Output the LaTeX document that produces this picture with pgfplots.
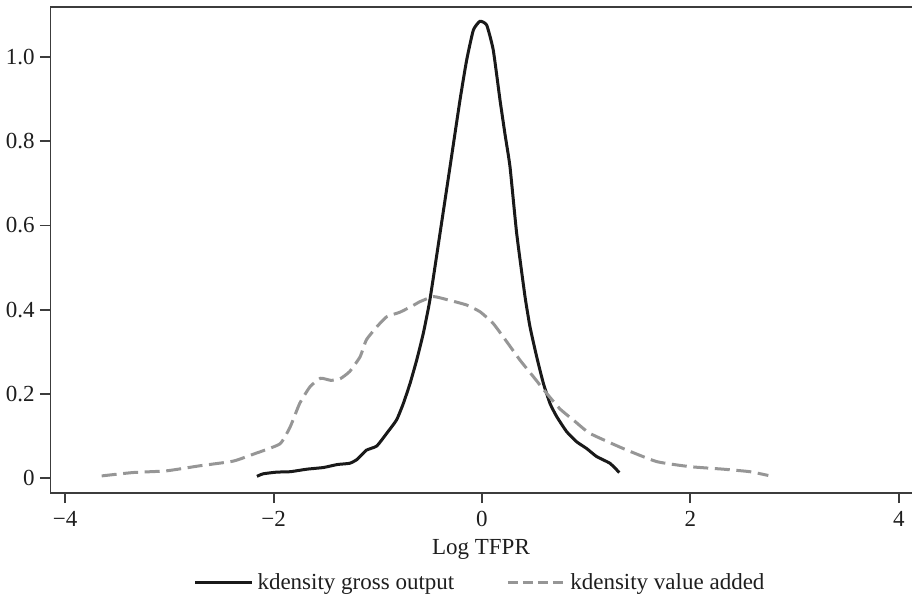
\documentclass[border=0pt]{standalone}
\usepackage{fontspec}
\setmainfont{Liberation Serif}
\usepackage{pgfplots}
\pgfplotsset{compat=1.18}
\definecolor{axisgray}{RGB}{60,60,60}
\definecolor{vagray}{RGB}{150,150,150}
\definecolor{txt}{RGB}{30,30,30}

\begin{document}
\fontsize{11.5bp}{13.5bp}\selectfont
\begin{tikzpicture}
\useasboundingbox (-25bp,-54.5bp) rectangle (431bp,246.5bp);
\begin{axis}[
  at={(0,0)}, anchor=south west,
  scale only axis, width=431bp, height=243bp,
  xmin=-4.146, xmax=4.127, ymin=-0.0356, ymax=1.119,
  axis line style={draw=none},
  xtick={-4,-2,0,2,4}, xticklabels={−4,−2,0,2,4},
  ytick={0,0.2,0.4,0.6,0.8,1.0}, yticklabels={0,0.2,0.4,0.6,0.8,1.0},
  xtick pos=left, ytick pos=left, tick align=outside,
  major tick length=5bp,
  tick style={axisgray, line width=0.9bp},
  ticklabel style={font=\fontsize{11.5bp}{13.5bp}\selectfont, text=txt},
  yticklabel style={inner sep=2.5bp},
  xlabel={Log TFPR},
  xlabel style={at={(axis description cs:0.5,-0.1152)}, anchor=center,
    font=\fontsize{11.5bp}{13.5bp}\selectfont, text=txt},
  legend columns=2,
  legend style={draw=none, fill=none, at={(0.5,-0.185)}, anchor=center,
    font=\fontsize{11.5bp}{13.5bp}\selectfont, text=txt,
    /tikz/every even column/.append style={column sep=24bp}},
  legend image code/.code={\draw[#1] (0bp,0bp) -- (28.5bp,0bp);},
]

% spines: left, top, bottom
\draw[axisgray, line width=1bp, line cap=rect]
  (rel axis cs:0,0) -- (rel axis cs:0,1) -- (rel axis cs:1,1);
\draw[axisgray, line width=1bp, line cap=rect]
  (rel axis cs:0,0) -- (rel axis cs:1,0);

% kdensity gross output
\addplot[black!90, line width=1.5bp, smooth, tension=0.3, forget plot] coordinates {
  (-2.16,0.004) (-2.10,0.010) (-1.97,0.014) (-1.84,0.015) (-1.68,0.021)
  (-1.52,0.025) (-1.39,0.032) (-1.27,0.035) (-1.20,0.044) (-1.11,0.066)
  (-1.01,0.076) (-0.915,0.106) (-0.82,0.138) (-0.755,0.177) (-0.69,0.225)
  (-0.627,0.280) (-0.563,0.344) (-0.50,0.423) (-0.403,0.581) (-0.307,0.739)
  (-0.211,0.898) (-0.147,0.993) (-0.083,1.064) (-0.02,1.085) (0.045,1.076)
  (0.108,1.017) (0.173,0.898) (0.222,0.815) (0.269,0.739) (0.333,0.581)
  (0.413,0.431) (0.461,0.359) (0.525,0.288) (0.589,0.225) (0.653,0.177)
  (0.717,0.146) (0.813,0.110) (0.909,0.086) (1.005,0.070) (1.10,0.051)
  (1.228,0.035) (1.318,0.013)
};

% kdensity value added
\addplot[vagray, line width=1.5bp, dash pattern=on 7.5bp off 3.3bp,
  smooth, tension=0.3, forget plot] coordinates {
  (-3.65,0.005) (-3.35,0.013) (-3.03,0.017) (-2.71,0.029) (-2.39,0.040)
  (-2.19,0.057) (-1.94,0.081) (-1.84,0.122) (-1.75,0.177) (-1.65,0.217)
  (-1.55,0.237) (-1.45,0.232) (-1.36,0.236) (-1.27,0.253) (-1.17,0.288)
  (-1.11,0.328) (-1.01,0.359) (-0.915,0.383) (-0.787,0.394) (-0.66,0.410)
  (-0.595,0.419) (-0.467,0.431) (-0.339,0.424) (-0.147,0.411) (-0.019,0.395)
  (0.108,0.367) (0.237,0.324) (0.365,0.280) (0.492,0.241) (0.621,0.201)
  (0.749,0.164) (0.89,0.135) (1.036,0.106) (1.356,0.070) (1.677,0.039)
  (1.996,0.027) (2.316,0.021) (2.572,0.015) (2.748,0.006)
};

\addlegendimage{black!90, line width=1.5bp}
\addlegendentry{kdensity gross output}
\addlegendimage{vagray, line width=1.5bp, dash pattern=on 5bp off 2.5bp}
\addlegendentry{kdensity value added}
\end{axis}
\end{tikzpicture}
\end{document}
